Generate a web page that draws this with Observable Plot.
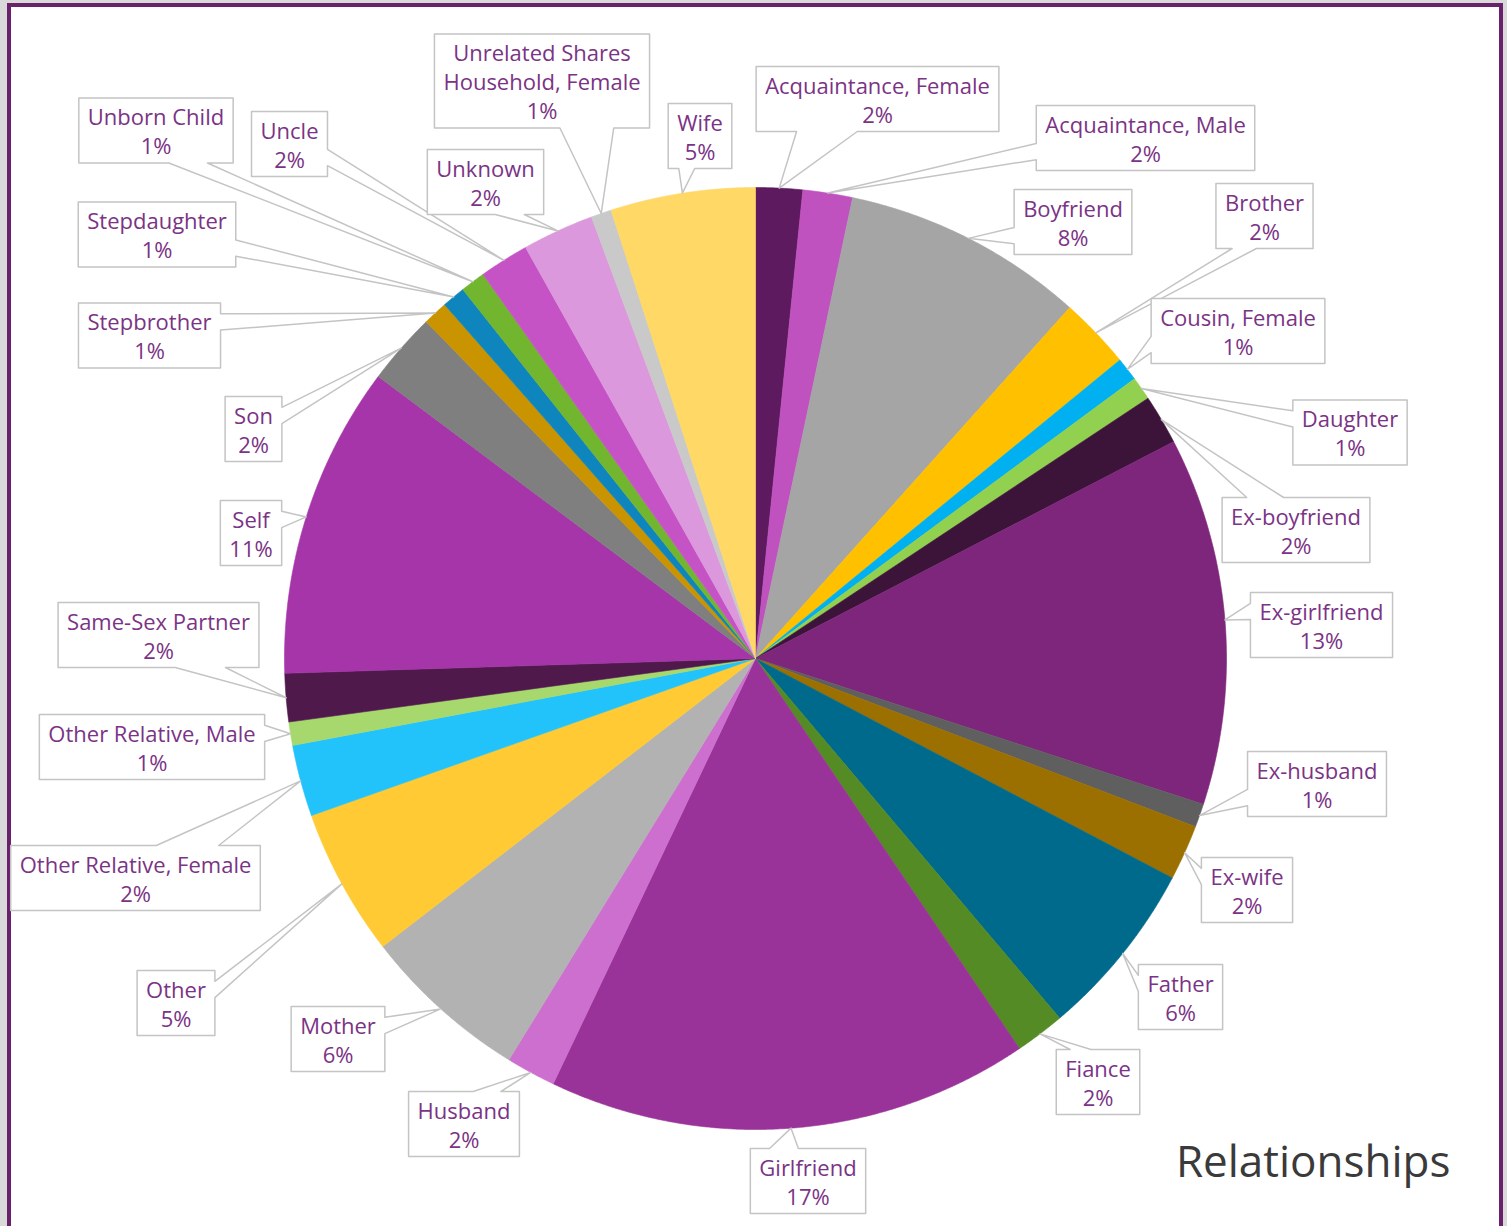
<!DOCTYPE html>
<html>
<head>
<meta charset="utf-8">
<script src="https://cdn.jsdelivr.net/npm/d3@7"></script>
<script src="https://cdn.jsdelivr.net/npm/@observablehq/plot@0.6"></script>
<style>
html, body { margin: 0; padding: 0; background: #d9d9d9; overflow: hidden; width: 1507px; height: 1226px; }
#frame { position: absolute; left: 7px; top: 3px; width: 1488px; height: 1300px; border: 4px solid #6a216c; background: #ffffff; }
#chart { position: absolute; left: 0; top: 0; }
</style>
</head>
<body>
<div id="frame"></div>
<div id="chart"></div>
<script>
// ---- data (clockwise from 12 o'clock) ----
const categories = [
  "Acquaintance, Female", "Acquaintance, Male", "Boyfriend", "Brother", "Cousin, Female",
  "Daughter", "Ex-boyfriend", "Ex-girlfriend", "Ex-husband", "Ex-wife",
  "Father", "Fiance", "Girlfriend", "Husband", "Mother",
  "Other", "Other Relative, Female", "Other Relative, Male", "Same-Sex Partner", "Self",
  "Son", "Stepbrother", "Stepdaughter", "Unborn Child", "Uncle",
  "Unknown", "Unrelated Shares Household, Female", "Wife"
];
const values = [
  1.6, 1.7, 8.3, 2.45, 0.8,
  0.8, 1.7, 12.6, 0.8, 1.9,
  6.1, 1.7, 16.5, 1.7, 5.75,
  5.05, 2.45, 0.8, 1.65, 10.7,
  2.45, 0.85, 0.8, 0.85, 1.7,
  2.45, 0.7, 4.95
];
const colors = [
  "#5e1a5e", "#c052c0", "#a5a5a5", "#ffc000", "#00b0f0",
  "#92d050", "#3d1439", "#7e267b", "#5f5f5f", "#9c7000",
  "#006a8c", "#548b24", "#993399", "#cd6fcf", "#b2b2b2",
  "#ffca33", "#22c3fb", "#a6d86e", "#4f1a4b", "#a535a8",
  "#7f7f7f", "#c99400", "#0e86bd", "#72b52e", "#c653c6",
  "#dc98dc", "#c9c9c9", "#ffd865"
];
const chartTitle = "Relationships";

// ---- layout (label callout centres, pixels) ----
const labelX = [877, 1145, 1072.5, 1264, 1237.5, 1349.5, 1295.5, 1321, 1316.5, 1246.5,
  1180, 1097.5, 807.5, 463.5, 337.5, 175.5, 135, 151.5, 158, 250.5,
  253, 149, 156.5, 155.5, 289, 485, 541.5, 699.5];
const labelY = [98.5, 137.5, 221.5, 215.5, 330.5, 432, 529.5, 624.5, 783.5, 889.5,
  996.5, 1081.5, 1180.5, 1123.5, 1038.5, 1002.5, 877.5, 746.5, 634.5, 532.5,
  428.5, 335, 234, 130, 143.5, 181.5, 80.5, 135.5];

const W = 1507, H = 1226;
const CX = 755, CY = 658, R = 471;
const FONT = "Open Sans";
const FS = 22, LH = 29;

const canvas = document.createElement("canvas");
const ctx = canvas.getContext("2d");
ctx.font = `${FS}px '${FONT}'`;
const tw = s => ctx.measureText(s).width;

function wrap(name) {
  if (tw(name) <= 250) return [name];
  const words = name.split(" ");
  const lines = [];
  let cur = "";
  for (const w of words) {
    const t = cur ? cur + " " + w : w;
    if (tw(t) > 210 && cur) { lines.push(cur); cur = w; } else cur = t;
  }
  if (cur) lines.push(cur);
  return lines;
}

const total = d3.sum(values);
const arcs = d3.pie().sort(null).value(d => d)(values);

// slices
const slicePts = [];
arcs.forEach((a, i) => {
  const key = categories[i];
  slicePts.push({key, color: colors[i], x: CX, y: CY});
  const n = Math.max(2, Math.ceil((a.endAngle - a.startAngle) / (0.25 * Math.PI / 180)));
  for (let k = 0; k <= n; k++) {
    const t = a.startAngle + (a.endAngle - a.startAngle) * k / n;
    slicePts.push({key, color: colors[i], x: CX + R * Math.sin(t), y: CY - R * Math.cos(t)});
  }
  slicePts.push({key, color: colors[i], x: CX, y: CY});
});

// callouts
const calloutPts = [];
const labelData = [];
arcs.forEach((a, i) => {
  const key = categories[i];
  const pct = Math.round(values[i] / total * 100);
  const lines = wrap(categories[i]).concat([pct + "%"]);
  const w = d3.max(lines, tw) + 18;
  const h = LH * lines.length + 7;
  const cx = labelX[i], cy = labelY[i];
  const l = cx - w / 2, r = cx + w / 2, t = cy - h / 2, b = cy + h / 2;
  const mid = (a.startAngle + a.endAngle) / 2;
  const tx = CX + R * Math.sin(mid), ty = CY - R * Math.cos(mid);
  const dxn = (tx - cx) / w, dyn = (ty - cy) / h;
  let pts;
  if (Math.abs(dxn) > Math.abs(dyn)) {
    const [f1, f2] = ty < cy ? [2/12, 5/12] : [7/12, 10/12];
    if (dxn > 0) pts = [[l,t],[r,t],[r,t+h*f1],[tx,ty],[r,t+h*f2],[r,b],[l,b],[l,t]];
    else pts = [[l,t],[r,t],[r,b],[l,b],[l,t+h*f2],[tx,ty],[l,t+h*f1],[l,t]];
  } else {
    const [f1, f2] = tx < cx ? [2/12, 5/12] : [7/12, 10/12];
    if (dyn < 0) pts = [[l,t],[l+w*f1,t],[tx,ty],[l+w*f2,t],[r,t],[r,b],[l,b],[l,t]];
    else pts = [[l,t],[r,t],[r,b],[l+w*f2,b],[tx,ty],[l+w*f1,b],[l,b],[l,t]];
  }
  pts.forEach(([x, y]) => calloutPts.push({key, x, y}));
  labelData.push({cx, cy, text: lines.join("\n")});
});

const chart = Plot.plot({
  width: W, height: H, margin: 0,
  x: {domain: [0, W], range: [0, W], axis: null},
  y: {domain: [0, H], range: [0, H], axis: null},
  color: {type: "identity"},
  style: {background: "transparent", overflow: "visible"},
  marks: [
    Plot.line(slicePts, {x: "x", y: "y", z: "key", fill: "color", stroke: "color", strokeWidth: 0.6, curve: "linear"}),
    Plot.line(calloutPts, {x: "x", y: "y", z: "key", fill: "white", stroke: "#c4c4c4", strokeWidth: 1.5, curve: "linear"}),
    Plot.text(labelData, {x: "cx", y: "cy", text: "text", fill: "#7b3385", fontSize: FS, fontFamily: FONT,
      lineHeight: LH / FS, textAnchor: "middle", lineAnchor: "middle"}),
    Plot.text([chartTitle], {frameAnchor: "bottom-right", dx: -57, dy: -50, lineAnchor: "bottom", textAnchor: "end",
      fontSize: 44, fill: "#3a3a3a", fontFamily: FONT, text: d => d})
  ]
});
document.getElementById("chart").appendChild(chart);
</script>
</body>
</html>
